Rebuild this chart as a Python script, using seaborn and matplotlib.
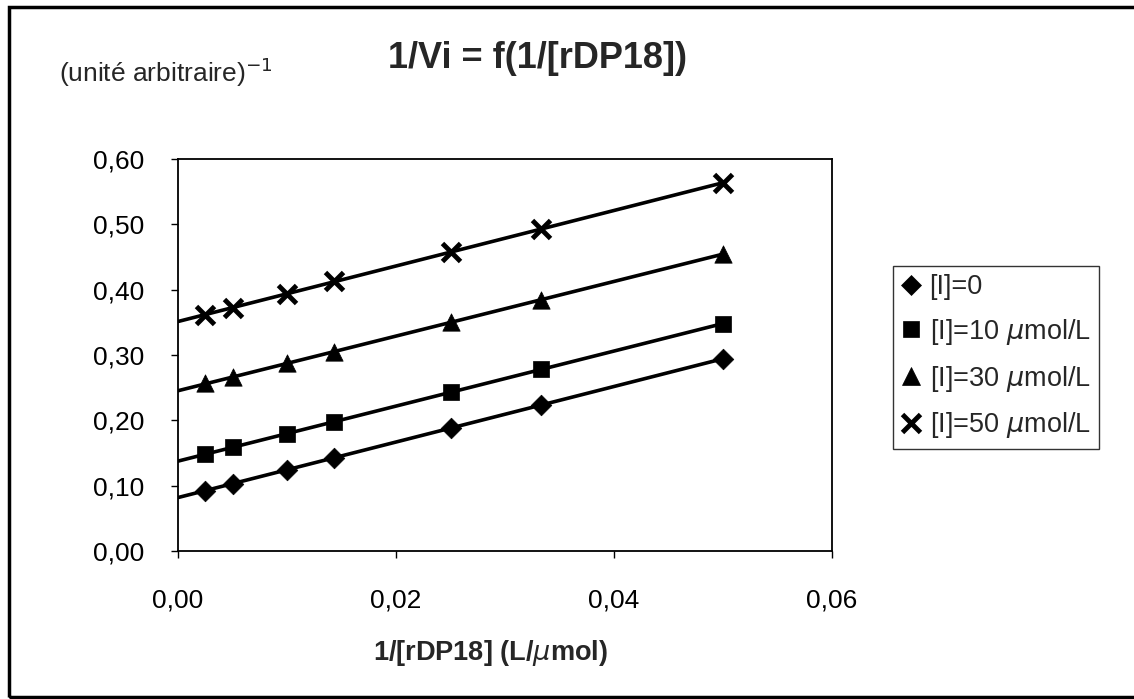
"""
plot.py - Lineweaver-Burk plot, 1/Vi against 1/[rDP18] for four inhibitor concentrations
"""
import numpy as np
import pandas as pd
import matplotlib
matplotlib.use('Agg')
import matplotlib.pyplot as plt
import matplotlib.ticker as ticker
from matplotlib.lines import Line2D
import seaborn as sns

# Data
inv_s = [0.0025, 0.005, 0.010, 0.0143, 0.025, 0.0333, 0.050]
inhib_labels = ['[I]=0', '[I]=10 $\\mu$mol/L', '[I]=30 $\\mu$mol/L', '[I]=50 $\\mu$mol/L']
inv_v_0 = [0.092, 0.103, 0.124, 0.143, 0.189, 0.223, 0.294]
inv_v_10 = [0.148, 0.159, 0.179, 0.198, 0.243, 0.278, 0.348]
inv_v_30 = [0.257, 0.266, 0.287, 0.304, 0.350, 0.384, 0.455]
inv_v_50 = [0.361, 0.372, 0.394, 0.413, 0.458, 0.493, 0.563]

x_ticks = [0.00, 0.02, 0.04, 0.06]
y_ticks = [0.0, 0.1, 0.2, 0.3, 0.4, 0.5, 0.6]

sns.set_theme(style='white')
plt.rcParams['font.family'] = ['Liberation Sans', 'DejaVu Sans']
plt.rcParams['mathtext.fontset'] = 'dejavusans'

# long table for seaborn
series = [inv_v_0, inv_v_10, inv_v_30, inv_v_50]
df = pd.DataFrame({
    'x': inv_s * 4,
    'y': sum(series, []),
    'serie': np.repeat(inhib_labels, len(inv_s)),
})

# regression lines from x=0 to the last point, like the Excel trend lines
fit_rows = []
for lab, vals in zip(inhib_labels, series):
    a, b = np.polyfit(inv_s, vals, 1)
    for xx in [0.0, max(inv_s)]:
        fit_rows.append({'x': xx, 'y': a * xx + b, 'serie': lab})
fit = pd.DataFrame(fit_rows)

fig = plt.figure(figsize=(11.34, 6.99), dpi=100)
ax = fig.add_axes([178 / 1134, 1 - 551 / 699, (832 - 178) / 1134, (551 - 159) / 699])

sns.lineplot(data=fit, x='x', y='y', units='serie', estimator=None, color='black',
             linewidth=2.6, legend=False, ax=ax)

marker_map = dict(zip(inhib_labels, ['D', 's', '^', 'x']))
size_map = dict(zip(inhib_labels, [10.5, 11, 12.5, 13]))
edge_map = dict(zip(inhib_labels, [0.5, 0.5, 0.5, 3.5]))
for lab in inhib_labels:
    sub = df[df['serie'] == lab]
    sns.scatterplot(x=sub['x'], y=sub['y'], marker=marker_map[lab], s=size_map[lab] ** 2,
                    color='black', edgecolor='black', linewidth=edge_map[lab],
                    clip_on=False, zorder=3, legend=False, ax=ax)

ax.set_xlim(0, 0.06)
ax.set_ylim(0, 0.6)
ax.set_xticks(x_ticks)
ax.set_yticks(y_ticks)
fmt = ticker.FuncFormatter(lambda v, p: f"{v:.2f}".replace('.', ','))
ax.xaxis.set_major_formatter(fmt)
ax.yaxis.set_major_formatter(fmt)
ax.tick_params(axis='both', direction='out', length=5, width=1, color='black',
               labelsize=19, labelcolor='black', bottom=True, left=True)
ax.tick_params(axis='y', pad=19)
ax.tick_params(axis='x', pad=22)
for s in ax.spines.values():
    s.set_color('black')
    s.set_linewidth(1.3)
ax.grid(False)
ax.set_xlabel('')
ax.set_ylabel('')

fig.text(538 / 1134, 1 - 58 / 699, '1/Vi = f(1/[rDP18])', ha='center', va='center',
         fontsize=26, fontweight='bold')
fig.text(59 / 1134, 1 - 72 / 699, '(unité arbitraire)$^{-1}$', ha='left', va='center',
         fontsize=19)
fig.text(490 / 1134, 1 - 653 / 699, '1/[rDP18] (L/$\\mu$mol)', ha='center', va='center',
         fontsize=19.5, fontweight='bold')

handles = [Line2D([], [], linestyle='none', marker=marker_map[lab], markersize=size_map[lab],
                  color='black', markeredgewidth=edge_map[lab])
           for lab in inhib_labels]
leg = fig.legend(handles, inhib_labels, loc='upper left',
                 bbox_to_anchor=(893 / 1134, 1 - 266 / 699), fontsize=19.5,
                 frameon=True, fancybox=False, handlelength=0.7, handletextpad=0.35,
                 borderpad=0.3, labelspacing=0.62, borderaxespad=0)
leg.get_frame().set_edgecolor('black')
leg.get_frame().set_linewidth(1.0)

# outer frame of the chart, its right side is cut off by the scan
frame = plt.Rectangle((9 / 1134, 2 / 699), 1140 / 1134, 690 / 699, transform=fig.transFigure,
                      fill=False, edgecolor='black', linewidth=2.5)
fig.patches.append(frame)

fig.savefig('out.png', dpi=100)
